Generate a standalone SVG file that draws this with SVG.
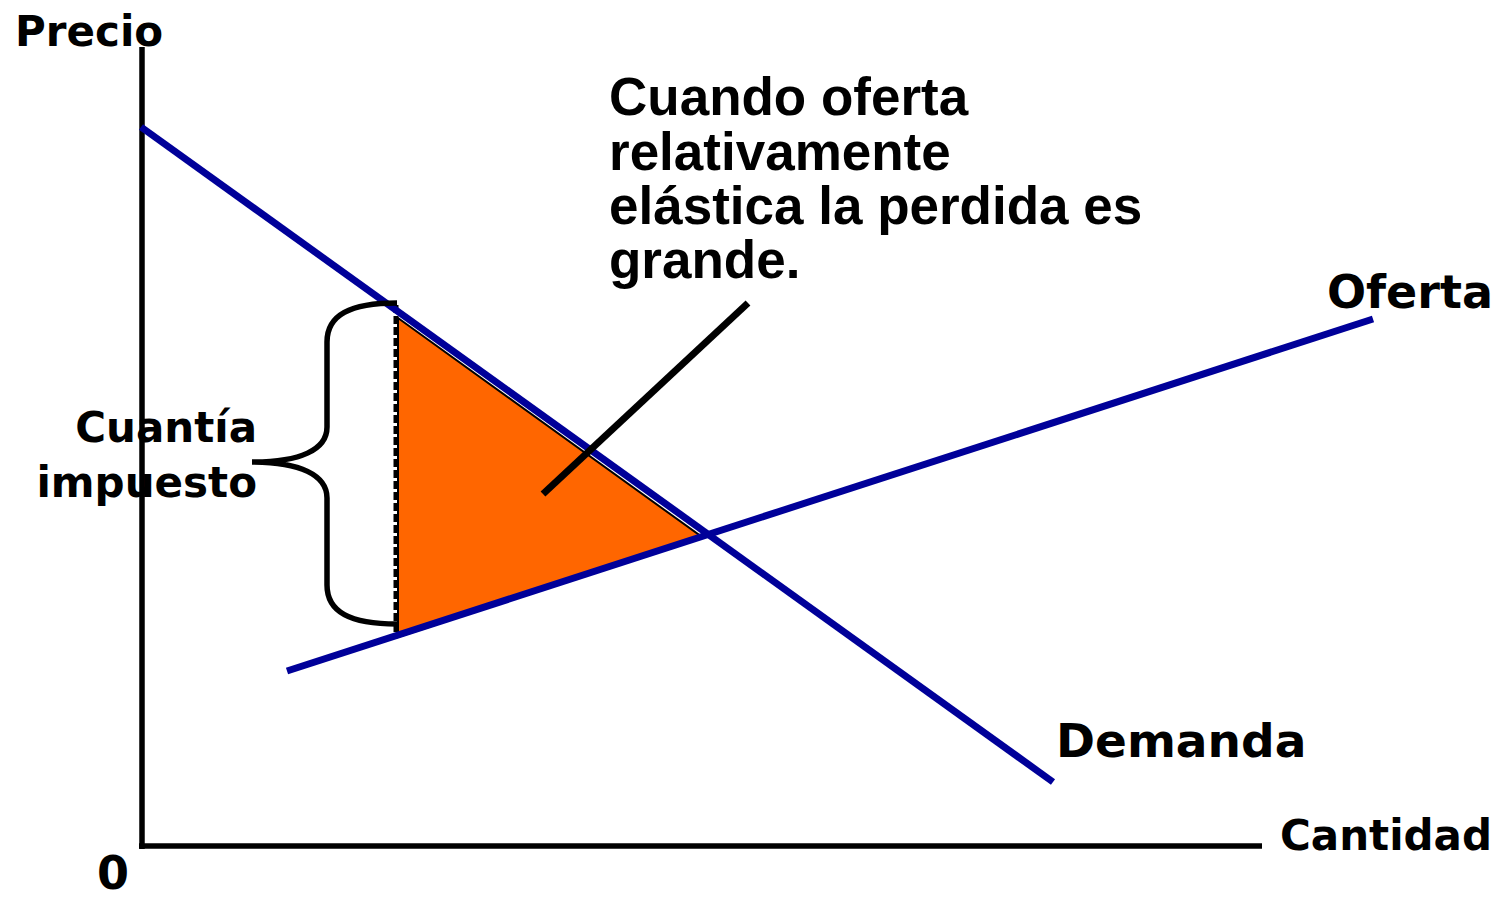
<svg xmlns="http://www.w3.org/2000/svg" width="1505" height="897" viewBox="0 0 1505 897">
<style>
.lbl{font-family:"DejaVu Sans",Verdana,sans-serif;font-weight:bold;fill:#000}
.call{font-family:"Liberation Sans",Arial,sans-serif;font-weight:bold;font-size:53px;fill:#000}
.curve{stroke:#000099;stroke-width:7;fill:none}
.axis{stroke:#000;stroke-width:5.5;fill:none}
</style>
<rect width="1505" height="897" fill="#fff"/>
<g id="loss-area">
<polygon points="398,318 702,537 398,637" fill="#FF6600" stroke="#000" stroke-width="2"/>
<line x1="396" y1="305" x2="396" y2="637" stroke="#000" stroke-width="5" stroke-dasharray="8 3"/>
</g>
<g id="connectors">
<line id="y-axis" class="axis" x1="142" y1="47" x2="142" y2="849"/>
<line id="x-axis" class="axis" x1="139" y1="846" x2="1262" y2="846"/>
<line id="demanda-curve" class="curve" x1="141" y1="127" x2="1053" y2="782"/>
<line id="oferta-curve" class="curve" x1="287" y1="671" x2="1373" y2="319"/>
<line id="callout-line" x1="748" y1="303" x2="543" y2="494" stroke="#000" stroke-width="7"/>
<path id="brace" d="M397,303 C350,303 327,315 327,342 L327,427 C327,450 300,462 252,462 C300,462 327,475 327,498 L327,585 C327,612 350,624 397,624" fill="none" stroke="#000" stroke-width="5.5"/>
</g>
<g id="label-precio"><text class="lbl" x="15" y="46" font-size="42">Precio</text></g>
<g id="label-cantidad"><text class="lbl" x="1280" y="850" font-size="42">Cantidad</text></g>
<g id="label-cero"><text class="lbl" x="97" y="889" font-size="46">0</text></g>
<g id="label-oferta"><text class="lbl" x="1327" y="308" font-size="46">Oferta</text></g>
<g id="label-demanda"><text class="lbl" x="1056" y="757" font-size="47">Demanda</text></g>
<g id="label-cuantia"><text class="lbl" text-anchor="end" font-size="42"><tspan x="257" y="442">Cuantía</tspan><tspan x="257" y="497">impuesto</tspan></text></g>
<g id="callout-text"><text class="call"><tspan x="609" y="115">Cuando oferta</tspan><tspan x="609" y="170">relativamente</tspan><tspan x="609" y="224">elástica la perdida es</tspan><tspan x="609" y="278">grande.</tspan></text></g>
</svg>
